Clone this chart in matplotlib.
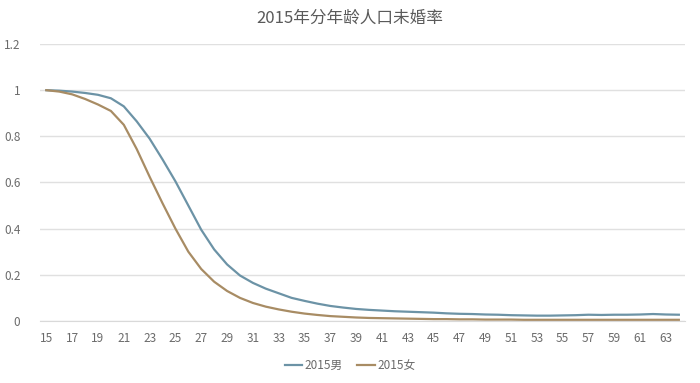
import numpy as np
import matplotlib.pyplot as plt

plt.rcParams['font.family'] = ['Noto Sans CJK SC', 'DejaVu Sans']

ages = list(range(15, 65))
male = [1.0, 0.998, 0.994, 0.988, 0.98, 0.965, 0.93, 0.865, 0.79, 0.70,
        0.605, 0.50, 0.395, 0.31, 0.245, 0.197, 0.165, 0.14, 0.12, 0.10,
        0.087, 0.075, 0.065, 0.058, 0.052, 0.048, 0.045, 0.042, 0.040, 0.038,
        0.036, 0.033, 0.031, 0.030, 0.028, 0.027, 0.025, 0.024, 0.023, 0.023,
        0.024, 0.025, 0.027, 0.026, 0.027, 0.027, 0.028, 0.030, 0.028, 0.027]
female = [1.0, 0.994, 0.982, 0.962, 0.938, 0.91, 0.85, 0.745, 0.625, 0.51,
          0.40, 0.30, 0.225, 0.17, 0.13, 0.10, 0.078, 0.062, 0.05, 0.04,
          0.032, 0.026, 0.021, 0.018, 0.015, 0.013, 0.012, 0.011, 0.010, 0.009,
          0.008, 0.008, 0.007, 0.007, 0.006, 0.006, 0.006, 0.005, 0.005, 0.005,
          0.005, 0.005, 0.005, 0.005, 0.005, 0.005, 0.005, 0.005, 0.005, 0.005]
yticks = [0, 0.2, 0.4, 0.6, 0.8, 1, 1.2]
ytick_labels = ['0', '0.2', '0.4', '0.6', '0.8', '1', '1.2']

fig = plt.figure(figsize=(7, 3.83), dpi=100)
ax = fig.add_axes([0.057, 0.162, 0.922, 0.723])

x = np.arange(len(ages))
ax.plot(x, male, color='#6c93a6', lw=1.6, label='2015男')
ax.plot(x, female, color='#a88c64', lw=1.6, label='2015女')

ax.set_xlim(-0.5, len(ages) - 0.5)
ax.set_ylim(0, 1.2)
ax.set_xticks(x[::2])
ax.set_xticklabels([str(a) for a in ages[::2]])
ax.set_yticks(yticks)
ax.set_yticklabels(ytick_labels)
ax.grid(axis='y', color='#e0e0e0', lw=1)
ax.set_axisbelow(True)
for s in ax.spines.values():
    s.set_visible(False)
ax.spines['bottom'].set_visible(True)
ax.spines['bottom'].set_color('#d9d9d9')
ax.tick_params(length=0, colors='#6b6b6b', labelsize=8.5)
ax.tick_params(axis='x', pad=8)
ax.tick_params(axis='y', pad=14)

fig.text(0.5, 0.952, '2015年分年龄人口未婚率', ha='center', va='center',
         fontsize=12, color='#5a5a5a')
fig.legend(loc='center', bbox_to_anchor=(0.5, 0.045), ncol=2, frameon=False,
           fontsize=8.5, labelcolor='#6b6b6b', handlelength=1.5,
           handletextpad=0.2, columnspacing=1.2)

fig.savefig('out.png', dpi=100)
